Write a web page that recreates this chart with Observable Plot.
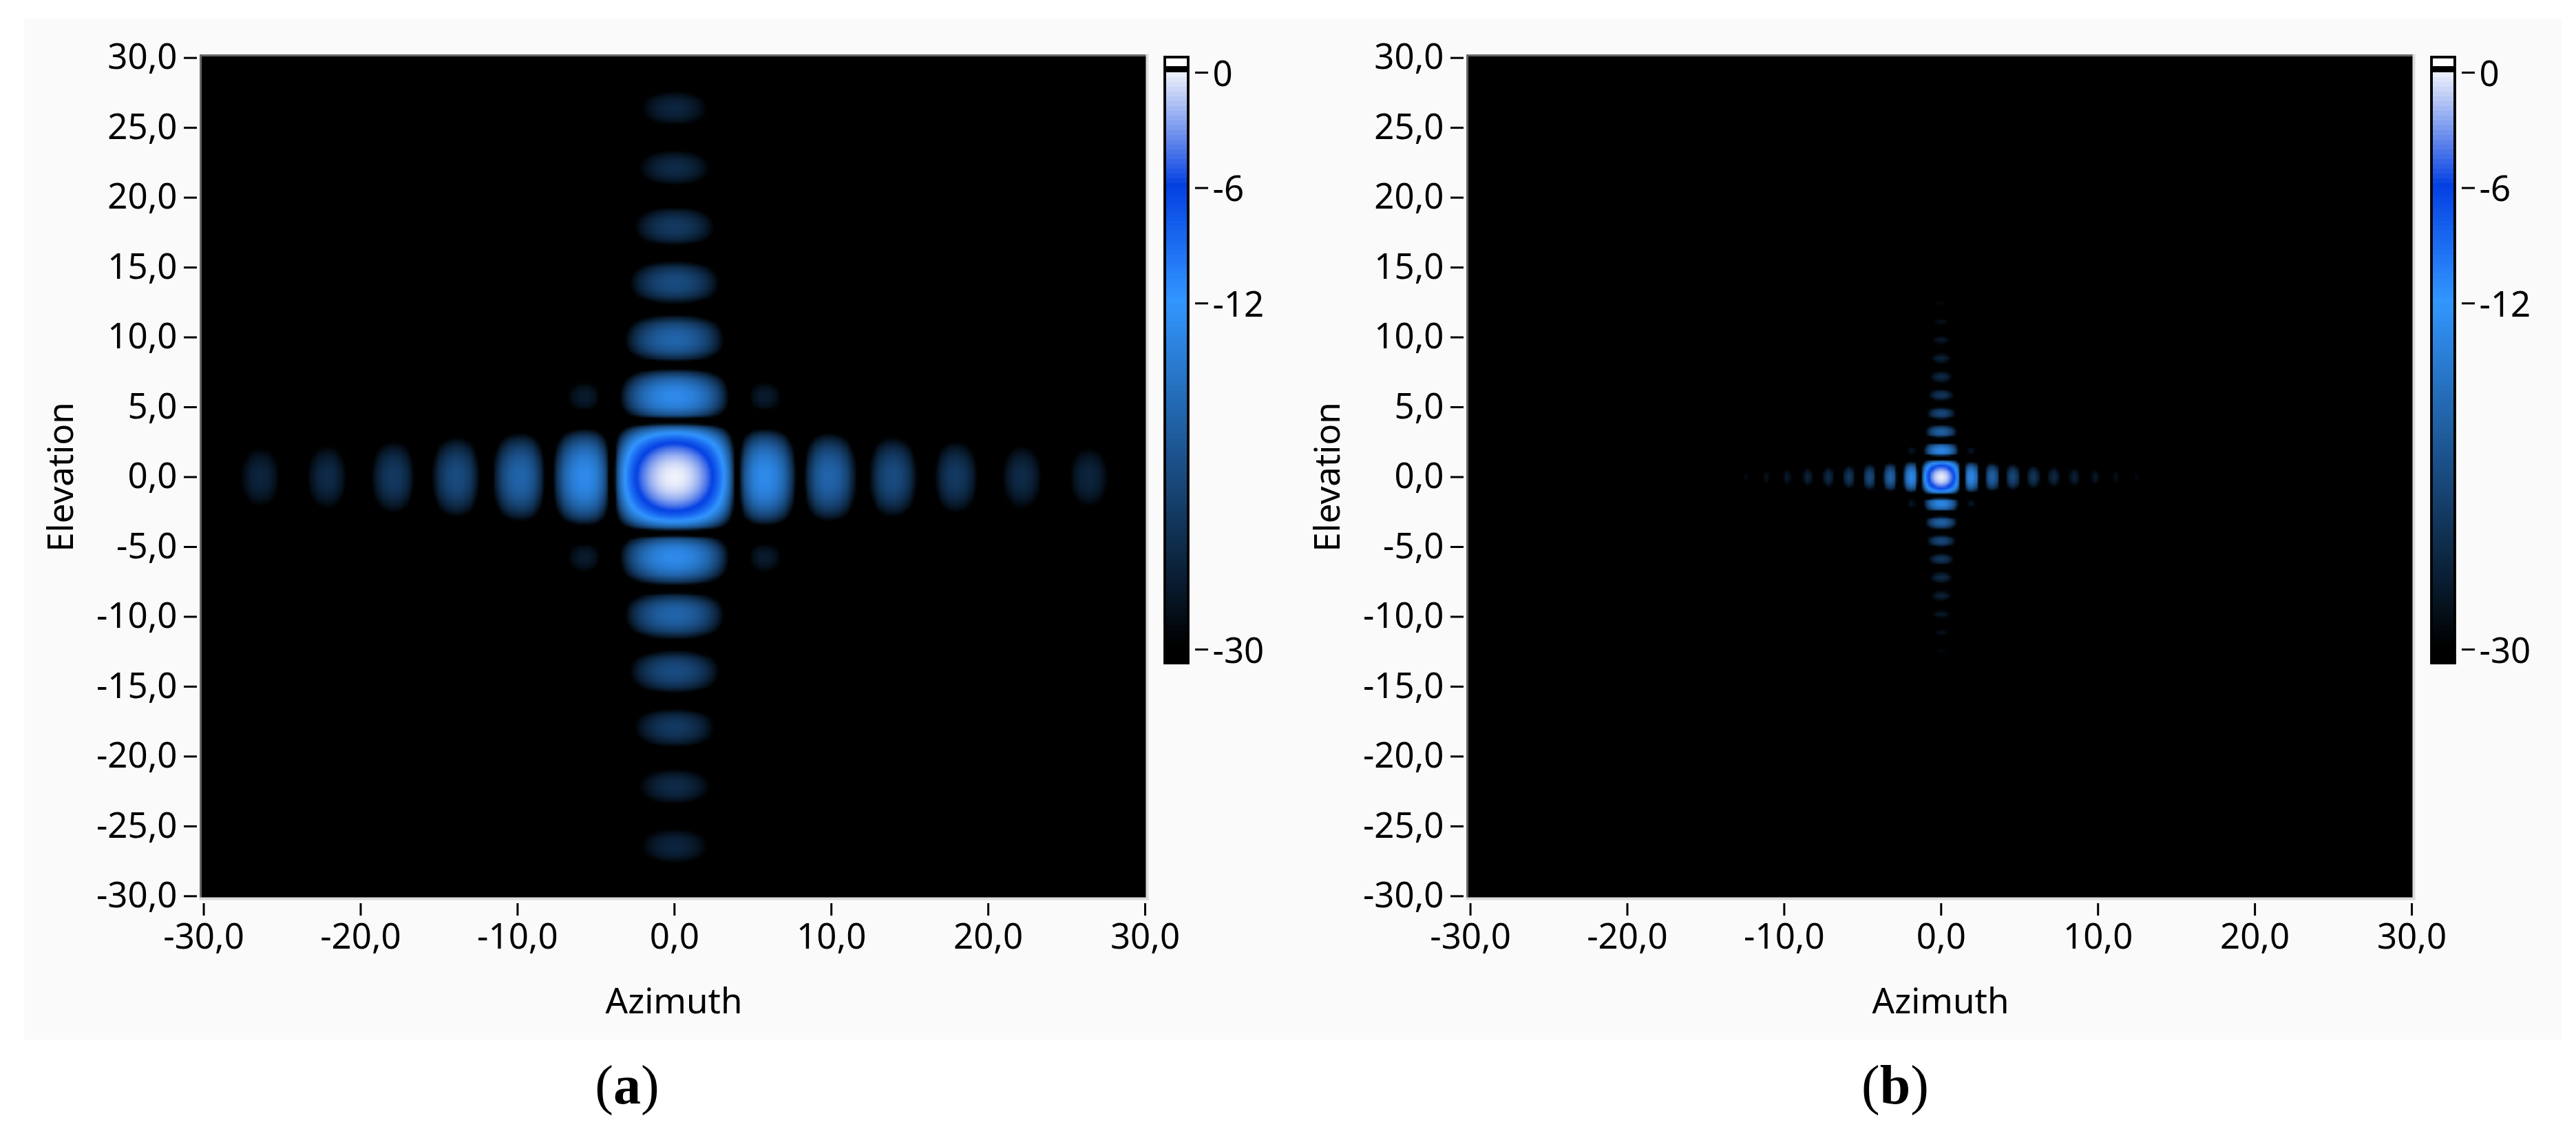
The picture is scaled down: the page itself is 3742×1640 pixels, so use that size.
<!DOCTYPE html>
<html>
<head>
<meta charset="utf-8">
<script src="https://cdn.jsdelivr.net/npm/d3@7"></script>
<script src="https://cdn.jsdelivr.net/npm/@observablehq/plot@0.6"></script>
<style>
  html, body { margin: 0; padding: 0; background: #fff; }
  #page { position: relative; width: 3742px; height: 1640px; overflow: hidden; background: #fff; }
  #bg { position: absolute; left: 35px; top: 28px; width: 3686px; height: 1482px; background: #fafafa; }
  .slot { position: absolute; top: 0; }
  .cap { position: absolute; top: 1526px; font: 80px "Liberation Serif", serif; color: #000; line-height: 100px; transform: translateX(-50%); white-space: nowrap; }
  svg { background: transparent !important; overflow: visible !important; }
</style>
</head>
<body>
<div id="page"><div id="bg"></div></div>
<script>
// Ticks
const azimuthTicks = [-30, -20, -10, 0, 10, 20, 30];
const elevationTicks = [30, 25, 20, 15, 10, 5, 0, -5, -10, -15, -20, -25, -30];
const levelLabels = ["-30", "-12", "-6", "0"];
const levelLabelValues = [-30, -12, -6, 0];

// Colour ramp
const rampLevels = [-30, -12, -6, 0];
const rampColors = ["#000000", "#3296ff", "#0440e2", "#f4f5fb"];

// Panel (a): pattern cut through boresight, degrees off axis and level in dB
const offAxisA = [0, 0.5, 1, 1.5, 2, 2.25, 2.5, 2.75, 3, 3.25, 3.5, 3.75, 4,
  4.25, 4.5, 5, 5.5, 6, 6.5, 7, 7.5, 7.75, 8,
  8.25, 8.5, 9, 9.5, 10, 10.5, 11, 11.5, 12,
  12.5, 13, 13.5, 14, 14.5, 15, 15.5, 16,
  16.5, 17, 17.5, 18, 18.5, 19, 19.5, 20,
  20.6, 21.2, 21.7, 22.2, 22.7, 23.2, 23.7, 24.2,
  24.9, 25.4, 25.9, 26.5, 27, 27.5, 28, 28.5,
  29, 31];
const levelA = [0, -0.22, -0.91, -2.11, -3.92, -5.11, -6.55, -8.29, -10.45, -13.25, -17.1, -23.6, -50,
  -24.7, -19.3, -14.9, -13.4, -13.46, -14.85, -17.8, -23.7, -29.9, -50,
  -30.4, -24.8, -20, -18.1, -17.9, -19, -21.7, -27.5, -50,
  -28.2, -23.2, -21.2, -20.8, -21.8, -24.4, -30, -50,
  -30.6, -25.5, -23.4, -23, -23.9, -26.5, -32, -50,
  -32.5, -27.4, -25.2, -24.8, -25.6, -28.1, -33.7, -50,
  -33.4, -28.2, -26, -25.5, -26.3, -28.8, -34, -60,
  -60, -60];

// Panel (b): same kind of cut, much narrower lobes
const offAxisB = [0, 0.33, 0.66, 0.82, 0.98, 1.15, 1.31,
  1.64, 1.97, 2.29, 2.62,
  2.95, 3.28, 3.6, 3.93,
  4.26, 4.59, 4.91, 5.24,
  5.57, 5.9, 6.22, 6.55,
  6.88, 7.21, 7.53, 7.86,
  8.19, 8.52, 8.84, 9.17,
  9.5, 9.83, 10.15, 10.48,
  10.81, 11.14, 11.46, 11.79,
  12.12, 12.45, 12.77, 13.1,
  31];
const levelB = [0, -0.91, -3.92, -6.55, -10.45, -17.1, -50,
  -14.9, -13.46, -17.8, -50,
  -20, -17.9, -21.7, -50,
  -23.2, -20.8, -24.4, -50,
  -25.5, -23, -26.5, -50,
  -27.1, -24.5, -27.8, -50,
  -28.2, -25.5, -28.8, -50,
  -29.4, -26.6, -29.9, -50,
  -30.3, -27.5, -30.8, -50,
  -31, -28.3, -31.5, -60,
  -60];

const levelSteps = d3.range(-30, 0, 0.25);
const decimal = d => d.toFixed(1).replace(".", ",");
const fontFamily = '"Noto Sans", sans-serif';
const color = { type: "linear", domain: rampLevels, range: rampColors, clamp: true };

function field(offAxis, level) {
  const pos = [], val = [];
  offAxis.forEach((a, i) => { if (a > 0) { pos.push(-a); val.push(level[i]); } });
  pos.reverse(); val.reverse();
  offAxis.forEach((a, i) => { pos.push(a); val.push(level[i]); });
  const pts = [];
  for (let i = 0; i < pos.length; ++i)
    for (let j = 0; j < pos.length; ++j)
      pts.push({ az: pos[i], el: pos[j], db: val[i] + val[j] });
  return pts;
}

function heatmap(offAxis, level) {
  return Plot.plot({
    width: 1680, height: 1510,
    marginLeft: 291, marginRight: 14, marginTop: 80, marginBottom: 205,
    style: { fontFamily, fontSize: "51px", color: "#000", background: "transparent", overflow: "visible" },
    x: { domain: [-30.2, 30.13], axis: null },
    y: { domain: [-30.18, 30.18], axis: null },
    color,
    marks: [
      Plot.raster(field(offAxis, level), {
        x: "az", y: "el", fill: "db",
        interpolate: "barycentric", pixelSize: 3
      }),
      Plot.frame({ anchor: "top", stroke: "#666", strokeWidth: 3 }),
      Plot.frame({ anchor: "left", stroke: "#666", strokeWidth: 3 }),
      Plot.frame({ anchor: "right", stroke: "#dcdcdc", strokeWidth: 4 }),
      Plot.frame({ anchor: "bottom", stroke: "#dcdcdc", strokeWidth: 4 }),
      Plot.axisY({
        ticks: elevationTicks, tickFormat: decimal, tickSize: 19, tickPadding: 10,
        strokeWidth: 3, dx: -5, label: "Elevation", labelAnchor: "center",
        labelArrow: "none", labelOffset: 222
      }),
      Plot.axisX({
        ticks: azimuthTicks, tickFormat: decimal, tickSize: 18, tickPadding: 11,
        strokeWidth: 3, dy: 7, label: "Azimuth", labelAnchor: "center",
        labelArrow: "none", labelOffset: 166
      })
    ]
  });
}

function colorbar() {
  return Plot.plot({
    width: 180, height: 1000,
    marginLeft: 0, marginRight: 125, marginTop: 0, marginBottom: 0,
    style: { fontFamily, fontSize: "51px", color: "#000", background: "transparent", overflow: "visible" },
    x: { domain: [0, 1], range: [14, 44], axis: null },
    y: { domain: [-30, 0], range: [943, 105], axis: null },
    color,
    marks: [
      Plot.rect([0], { x1: -0.13, x2: 1.13, y1: -30.79, y2: 0.86, fill: "#000" }),
      Plot.rect([0], { x1: 0, x2: 1, y1: 0.32, y2: 0.72, fill: "#fff" }),
      Plot.rect(levelSteps, { x1: 0, x2: 1, y1: d => d, y2: d => d + 0.25, fill: d => d, shapeRendering: "crispEdges" }),
      Plot.axisY({
        anchor: "right", ticks: levelLabelValues, tickFormat: () => "",
        tickSize: 19, strokeWidth: 3, label: null
      }),
      Plot.axisY({
        anchor: "right", ticks: levelLabelValues, tickFormat: d => levelLabels[levelLabelValues.indexOf(d)],
        tickSize: 0, tickPadding: 26, dy: 3, label: null
      })
    ]
  });
}

const page = document.getElementById("page");
function place(el, left) {
  const d = document.createElement("div");
  d.className = "slot"; d.style.left = left + "px";
  d.appendChild(el); page.appendChild(d);
}
place(heatmap(offAxisA, levelA), 0);
place(colorbar(), 1680);
place(heatmap(offAxisB, levelB), 1840);
place(colorbar(), 3520);

for (const [t, cx] of [["a", 911], ["b", 2753]]) {
  const c = document.createElement("div");
  c.className = "cap"; c.style.left = cx + "px";
  c.innerHTML = "(<b>" + t + "</b>)";
  page.appendChild(c);
}
</script>
</body>
</html>
